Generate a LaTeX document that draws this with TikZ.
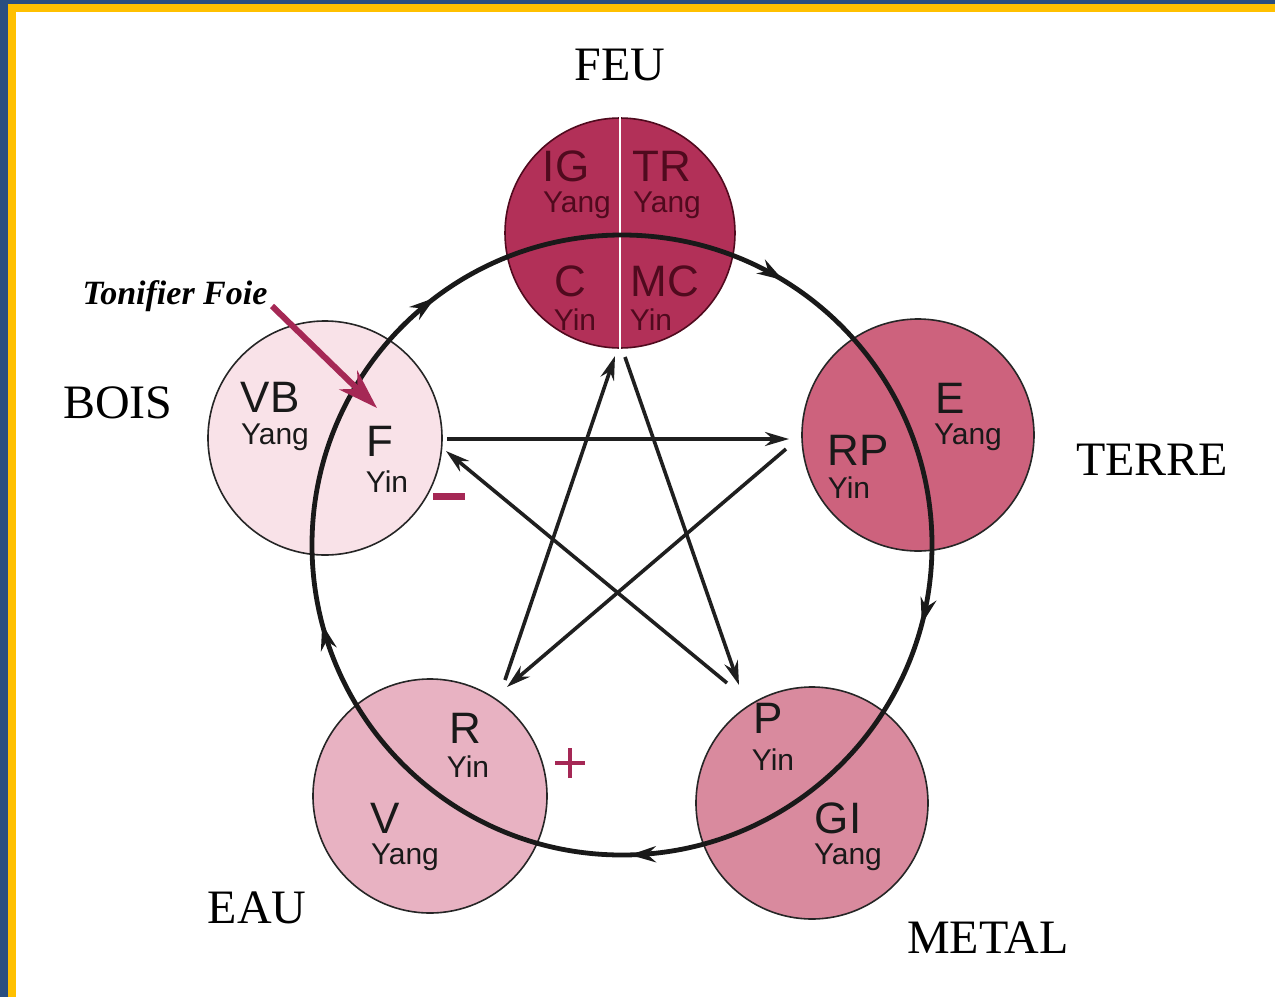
\documentclass[tikz,border=0pt]{standalone}
\usepackage{fontspec}
\setmainfont{Liberation Serif}
\setsansfont{Liberation Sans}
\usetikzlibrary{arrows.meta,decorations.markings}
\definecolor{frameblue}{RGB}{42,78,128}
\definecolor{frameyellow}{RGB}{255,192,0}
\definecolor{feufill}{RGB}{178,48,88}
\definecolor{terrefill}{RGB}{205,98,125}
\definecolor{metalfill}{RGB}{217,138,158}
\definecolor{eaufill}{RGB}{232,178,194}
\definecolor{boisfill}{RGB}{249,226,232}
\definecolor{feutext}{RGB}{80,10,30}
\definecolor{crimson}{RGB}{165,40,85}
\begin{document}
\begin{tikzpicture}[x=0.5pt,y=-0.5pt,
  elem/.style={circle,draw=black!85,line width=0.8pt,inner sep=0pt},
  big/.style={font=\sffamily\fontsize{22}{22}\selectfont,text=black!90,inner sep=0pt},
  small/.style={font=\sffamily\fontsize{15}{15}\selectfont,text=black!90,inner sep=0pt},
  lab/.style={font=\fontsize{24}{24}\selectfont,text=black,inner sep=0pt},
  ring/.style={line width=2.4pt,draw=black!90},
  starline/.style={line width=1.8pt,draw=black!88,-{Stealth[length=12pt,width=7pt]}}
]
\fill[frameblue] (0,0) rectangle (1275,997);
\fill[frameyellow] (8,4) rectangle (1275,997);
\fill[white] (16,12) rectangle (1275,997);
\useasboundingbox (0,0) rectangle (1275,997);

% element circles
\node[elem,fill=feufill,draw=feutext,minimum size=115pt] (feu) at (620,233) {};
\node[elem,fill=boisfill,minimum size=117pt] (bois) at (325,438) {};
\node[elem,fill=terrefill,minimum size=116pt] (terre) at (918,435) {};
\node[elem,fill=metalfill,minimum size=116pt] (metal) at (812,803) {};
\node[elem,fill=eaufill,minimum size=117pt] (eau) at (430,796) {};
\draw[white,line width=1.2pt] (feu.north) -- (feu.south);

% ring (sheng cycle)
\coordinate (ctr) at (622,545);
\draw[ring,postaction={decorate},decoration={markings,
   mark=at position 0.087 with {\arrow{Stealth[length=13pt,width=8pt]}},
   mark=at position 0.291 with {\arrow{Stealth[length=13pt,width=8pt]}},
   mark=at position 0.496 with {\arrow{Stealth[length=13pt,width=8pt]}},
   mark=at position 0.709 with {\arrow{Stealth[length=13pt,width=8pt]}},
   mark=at position 0.897 with {\arrow{Stealth[length=13pt,width=8pt]}}}]
   (ctr) ++(0pt,155pt) arc[start angle=90,end angle=-270,radius=155pt];

% texts FEU
\begin{scope}[big/.append style={text=feutext},small/.append style={text=feutext}]
\node[big] (ig) at (566,166) {IG};
\node[small] (igy) at (577,205) {Yang};
\node[big] (tr) at (662,166) {TR};
\node[small] (try) at (667,205) {Yang};
\node[big] (c) at (570,281) {C};
\node[small] (cy) at (575,320) {Yin};
\node[big] (mc) at (665,281) {MC};
\node[small] (mcy) at (651,320) {Yin};
\end{scope}
% BOIS
\node[big] (vb) at (270,397) {VB};
\node[small] (vby) at (275,437) {Yang};
\node[big] (f) at (380,441) {F};
\node[small] (fy) at (387,482) {Yin};
% TERRE
\node[big] (e) at (950,398) {E};
\node[small] (ey) at (968,437) {Yang};
\node[big] (rp) at (858,450) {RP};
\node[small] (rpy) at (849,488) {Yin};
% METAL
\node[big] (p) at (768,718) {P};
\node[small] (py) at (773,760) {Yin};
\node[big] (gi) at (838,818) {GI};
\node[small] (giy) at (848,857) {Yang};
% EAU
\node[big] (r) at (465,728) {R};
\node[small] (ry) at (468,767) {Yin};
\node[big] (v) at (385,818) {V};
\node[small] (vy) at (405,857) {Yang};

% star (ko cycle)
\coordinate (s1a) at (447,439);
\coordinate (s1b) at (789,439);
\coordinate (s2a) at (786,449);
\coordinate (s2b) at (507,687);
\coordinate (s3a) at (505,680);
\coordinate (s3b) at (615,356);
\coordinate (s4a) at (625,357);
\coordinate (s4b) at (739,685);
\coordinate (s5a) at (727,683);
\coordinate (s5b) at (446,451);
\draw[starline] (s1a) -- (s1b);
\draw[starline] (s2a) -- (s2b);
\draw[starline] (s3a) -- (s3b);
\draw[starline] (s4a) -- (s4b);
\draw[starline] (s5a) -- (s5b);

% labels
\node[lab] (lfeu) at (620,65) {FEU};
\node[lab] (lbois) at (118,403) {BOIS};
\node[lab] (lterre) at (1152,460) {TERRE};
\node[lab] (leau) at (257,908) {EAU};
\node[lab] (lmetal) at (988,938) {METAL};

% Tonifier Foie
\node[font=\fontsize{17}{17}\selectfont\bfseries\itshape,inner sep=0pt] (tf) at (175,296) {Tonifier Foie};
\coordinate (tfa) at (272,306);
\coordinate (tfb) at (377,408);
\draw[crimson,line width=3pt,-{Stealth[length=20pt,width=13pt]}] (tfa) -- (tfb);

% minus and plus
\fill[crimson] (433,493) rectangle (465,500);
\coordinate (plus) at (570,763);
\draw[crimson,line width=2.2pt] ([xshift=-7.5pt]plus) -- ([xshift=7.5pt]plus);
\draw[crimson,line width=2.2pt] ([yshift=-7.5pt]plus) -- ([yshift=7.5pt]plus);
\end{tikzpicture}
\end{document}
